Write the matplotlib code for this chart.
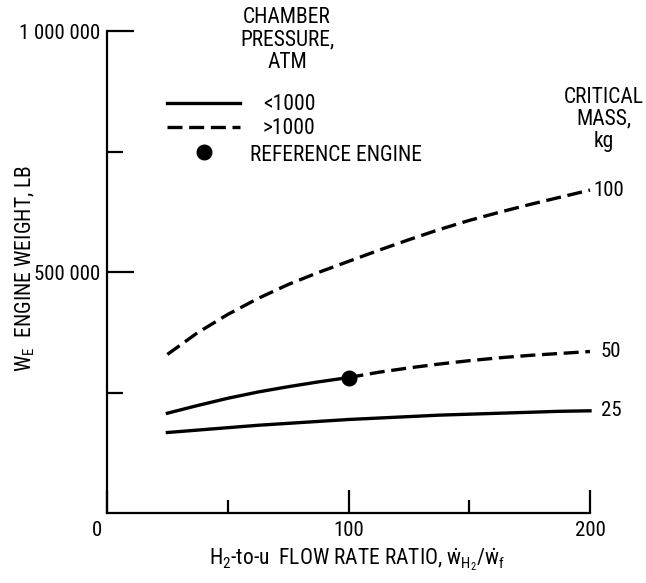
import matplotlib
matplotlib.use("Agg")
import matplotlib.pyplot as plt
from matplotlib import font_manager
from matplotlib.lines import Line2D
from matplotlib.transforms import ScaledTranslation

available = {f.name for f in font_manager.fontManager.ttflist}
narrow = None
for cand in ['Liberation Sans Narrow', 'DejaVu Sans Condensed', 'Roboto Condensed',
             'Open Sans Condensed', 'Noto Sans Condensed']:
    if cand in available:
        narrow = cand
        break
if narrow is None:
    narrow = 'DejaVu Sans'
    scale = 0.82
else:
    scale = 1.0

plt.rcParams['font.family'] = [narrow, 'DejaVu Sans']
plt.rcParams['font.stretch'] = 'condensed'
plt.rcParams['mathtext.fontset'] = 'custom'
plt.rcParams['mathtext.rm'] = narrow
plt.rcParams['mathtext.it'] = narrow
plt.rcParams['mathtext.bf'] = narrow

# ---- data ----
flow_ratio = [25, 37.5, 50, 62.5, 75, 87.5, 100, 112.5, 125, 137.5, 150, 162.5, 175, 187.5, 200]
mass_100 = [329000, 374000, 412000, 445000, 474000, 499000, 522000, 545000, 567000,
            588000, 607000, 624000, 640000, 655000, 670000]
mass_50 = [207000, 223000, 238000, 251000, 262000, 272000, 281000, 292000, 301000,
           309000, 316000, 322000, 327000, 331000, 335000]
mass_25 = [167000, 172000, 177000, 182000, 186000, 190000, 194000, 197000, 200000,
           203000, 205000, 207000, 209000, 211000, 212000]
pressure_switch_50 = 100          # 50 kg curve: <1000 atm up to here, >1000 atm beyond
reference_engine = (100, 281000)
curve_labels = ["100", "50", "25"]
x_ticks = [0, 100, 200]
x_tick_labels = ["0", "100", "200"]
x_minor = [50, 150]
y_ticks = [500000, 1000000]
y_tick_labels = ["500 000", "1 000 000"]
y_minor = [250000, 750000]

W, H = 646, 583
fig = plt.figure(figsize=(W / 100, H / 100), dpi=100)
L, R, B, T = 107, 590, 513, 31
ax = fig.add_axes([L / W, 1 - B / H, (R - L) / W, (B - T) / H])
ax.set_xlim(0, 200)
ax.set_ylim(0, 1000000)
for s in ['top', 'right']:
    ax.spines[s].set_visible(False)
for s in ['left', 'bottom']:
    ax.spines[s].set_linewidth(1.6)

lw = 2.4
dash = (4.5, 2.0)
fs_text = 15.5 * scale
fs_tick = 15 * scale

def dashed(ax, x, y):
    ln, = ax.plot(x, y, color='black', lw=lw, clip_on=False)
    ln.set_dashes(dash)
    ln.set_dash_capstyle('butt')
    return ln

# 100 kg: all >1000 atm
dashed(ax, flow_ratio, mass_100)
# 50 kg: split at the reference engine
xs = [x for x in flow_ratio if x <= pressure_switch_50]
ys = [y for x, y in zip(flow_ratio, mass_50) if x <= pressure_switch_50]
ax.plot(xs, ys, color='black', lw=lw, clip_on=False)
xd = [x for x in flow_ratio if x >= pressure_switch_50]
yd = [y for x, y in zip(flow_ratio, mass_50) if x >= pressure_switch_50]
dashed(ax, xd, yd)
# 25 kg: solid
ax.plot(flow_ratio, mass_25, color='black', lw=lw, clip_on=False)
ax.plot([reference_engine[0]], [reference_engine[1]], 'o', color='black', ms=10.5, clip_on=False)

# curve labels
for lab, ser, dx in zip(curve_labels, [mass_100, mass_50, mass_25], [3, 11, 11]):
    ax.annotate(lab, xy=(flow_ratio[-1], ser[-1]), xytext=(dx * 0.72, 0),
                textcoords='offset points', ha='left', va='center', fontsize=fs_tick)

# ticks
ax.set_xticks(x_ticks)
ax.set_xticklabels(x_tick_labels)
ax.set_xticks(x_minor, minor=True)
ax.set_yticks(y_ticks)
ax.set_yticklabels(y_tick_labels)
ax.set_yticks(y_minor, minor=True)
ax.tick_params(axis='x', which='major', direction='in', length=16.5, width=1.6, labelsize=fs_tick, pad=6)
ax.tick_params(axis='x', which='minor', direction='in', length=9.5, width=1.6)
ax.tick_params(axis='y', which='major', direction='in', length=19.5, width=1.6, labelsize=fs_tick, pad=5)
ax.tick_params(axis='y', which='minor', direction='in', length=11.5, width=1.6)
lbl0 = ax.get_xticklabels()[0]
lbl0.set_transform(lbl0.get_transform() + ScaledTranslation(-10 / 100, 0, fig.dpi_scale_trans))

def fx(px):
    return px / W

def fy(py):
    return 1 - py / H

# axis labels
fig.text(fx(25), fy(268), r"W$_{\mathrm{E}}$  ENGINE WEIGHT, LB", rotation=90,
         ha='center', va='center', fontsize=fs_text)
fig.text(fx(357), fy(560),
         r"H$_2$-to-u  FLOW RATE RATIO, $\dot{\mathrm{w}}_{\mathrm{H_2}}/\dot{\mathrm{w}}_{\mathrm{f}}$",
         ha='center', va='center', fontsize=fs_text)

# headings
fig.text(fx(287), fy(7), "CHAMBER\nPRESSURE,\nATM", ha='center', va='top',
         fontsize=fs_text, linespacing=1.1)
fig.text(fx(604), fy(87), "CRITICAL\nMASS,\nkg", ha='center', va='top',
         fontsize=fs_text, linespacing=1.05)

# legend
l1 = Line2D([fx(167), fx(240)], [fy(103), fy(103)], transform=fig.transFigure,
            color='black', lw=lw)
fig.add_artist(l1)
l2 = Line2D([fx(167), fx(240)], [fy(127), fy(127)], transform=fig.transFigure,
            color='black', lw=lw, dash_capstyle='butt')
l2.set_dashes(dash)
fig.add_artist(l2)
l3 = Line2D([fx(204)], [fy(152)], transform=fig.transFigure, marker='o', ms=10.5,
            color='black', lw=0)
fig.add_artist(l3)
fig.text(fx(263), fy(105), "<1000", ha='left', va='center', fontsize=fs_text)
fig.text(fx(263), fy(129), ">1000", ha='left', va='center', fontsize=fs_text)
fig.text(fx(250), fy(155), "REFERENCE ENGINE", ha='left', va='center', fontsize=fs_text)

fig.savefig("out.png", dpi=100)
